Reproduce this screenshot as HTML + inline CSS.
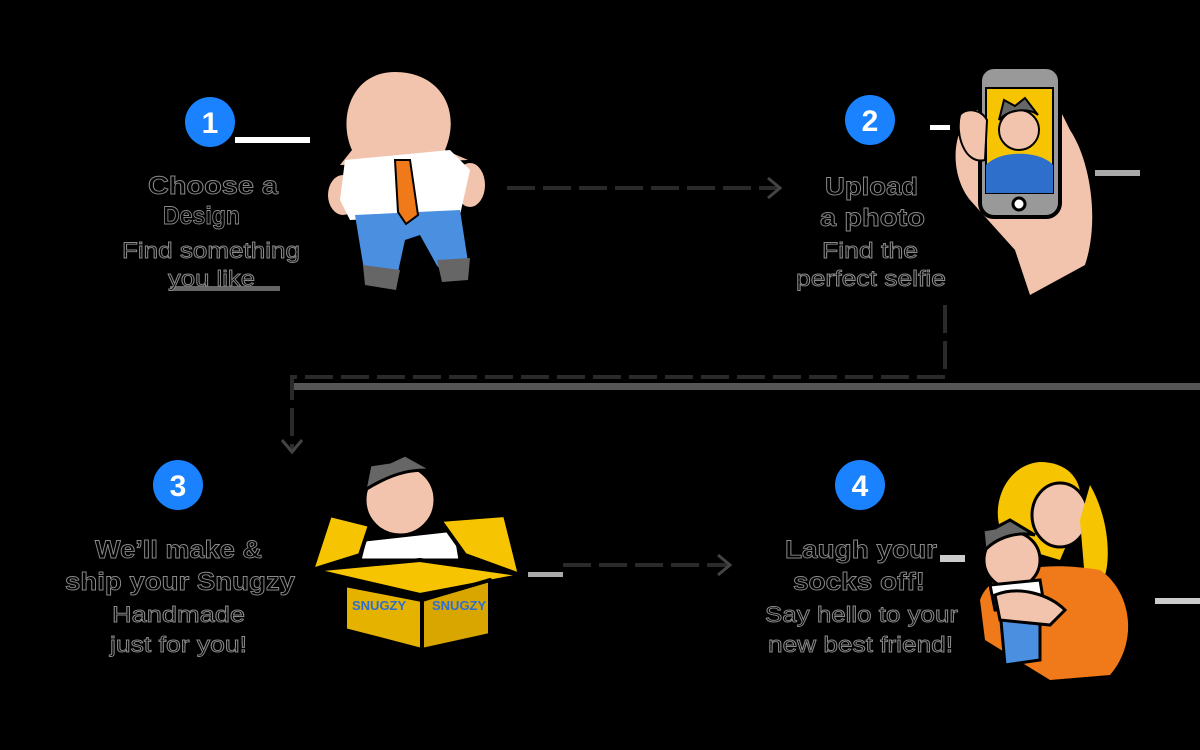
<!DOCTYPE html>
<html><head><meta charset="utf-8"><style>
html,body{margin:0;padding:0;background:#000;width:1200px;height:750px;overflow:hidden}
svg{display:block}
.t{font-family:"Liberation Sans",sans-serif;font-weight:bold;font-size:25px;fill:#000;stroke:#8a8a8a;stroke-width:0.9}
.s{font-family:"Liberation Sans",sans-serif;font-size:22px;fill:#000;stroke:#8a8a8a;stroke-width:0.9}
.n{font-family:"Liberation Sans",sans-serif;font-weight:bold;font-size:30px;fill:#fff}
.d{fill:none;stroke:#2a2a2a;stroke-width:4;stroke-dasharray:28 8}
.ol{stroke:#000;stroke-width:4;stroke-linejoin:round}
</style></head><body>
<svg width="1200" height="750" viewBox="0 0 1200 750">
<rect width="1200" height="750" fill="#000"/>
<rect x="235" y="137" width="75" height="6" fill="#fff"/>
<rect x="170" y="286" width="110" height="5" fill="#666"/>
<rect x="290" y="383" width="910" height="7" fill="#555"/>
<rect x="1155" y="598" width="45" height="6" fill="#ccc"/>
<rect x="940" y="555" width="25" height="7" fill="#ccc"/>
<rect x="528" y="572" width="35" height="5" fill="#aaa"/>
<rect x="1095" y="170" width="45" height="6" fill="#aaa"/>
<rect x="930" y="125" width="20" height="5" fill="#fff"/>

<circle cx="210" cy="122" r="25" fill="#1a82ff"/><text class="n" x="210" y="133" text-anchor="middle">1</text>
<circle cx="870" cy="120" r="25" fill="#1a82ff"/><text class="n" x="870" y="131" text-anchor="middle">2</text>
<circle cx="178" cy="485" r="25" fill="#1a82ff"/><text class="n" x="178" y="496" text-anchor="middle">3</text>
<circle cx="860" cy="485" r="25" fill="#1a82ff"/><text class="n" x="860" y="496" text-anchor="middle">4</text>

<text class="t" x="148" y="194" textLength="130" lengthAdjust="spacingAndGlyphs">Choose a</text>
<text class="t" x="163" y="224" textLength="77" lengthAdjust="spacingAndGlyphs">Design</text>
<text class="s" x="122" y="258" textLength="178" lengthAdjust="spacingAndGlyphs">Find something</text>
<text class="s" x="168" y="286" textLength="87" lengthAdjust="spacingAndGlyphs">you like</text>

<text class="t" x="825" y="195" textLength="93" lengthAdjust="spacingAndGlyphs">Upload</text>
<text class="t" x="820" y="226" textLength="105" lengthAdjust="spacingAndGlyphs">a photo</text>
<text class="s" x="822" y="258" textLength="96" lengthAdjust="spacingAndGlyphs">Find the</text>
<text class="s" x="796" y="286" textLength="150" lengthAdjust="spacingAndGlyphs">perfect selfie</text>

<text class="t" x="95" y="558" textLength="167" lengthAdjust="spacingAndGlyphs">We’ll make &amp;</text>
<text class="t" x="65" y="590" textLength="230" lengthAdjust="spacingAndGlyphs">ship your Snugzy</text>
<text class="s" x="112" y="622" textLength="133" lengthAdjust="spacingAndGlyphs">Handmade</text>
<text class="s" x="110" y="652" textLength="137" lengthAdjust="spacingAndGlyphs">just for you!</text>

<text class="t" x="785" y="558" textLength="152" lengthAdjust="spacingAndGlyphs">Laugh your</text>
<text class="t" x="793" y="590" textLength="132" lengthAdjust="spacingAndGlyphs">socks off!</text>
<text class="s" x="765" y="622" textLength="193" lengthAdjust="spacingAndGlyphs">Say hello to your</text>
<text class="s" x="768" y="652" textLength="185" lengthAdjust="spacingAndGlyphs">new best friend!</text>

<path class="d" d="M507 188 H778"/>
<path d="M768 178 L780 188 L768 198" fill="none" stroke="#444" stroke-width="3"/>
<path class="d" d="M945 305 V377 H292 V450"/>
<path d="M282 440 L292 452 L302 440" fill="none" stroke="#444" stroke-width="3"/>
<path class="d" d="M563 565 H728"/>
<path d="M718 555 L730 565 L718 575" fill="none" stroke="#444" stroke-width="3"/>

<!-- character 1 -->
<g>
<path d="M395 72 C350 72 338 120 352 150 L340 165 L468 160 L445 150 C462 110 440 72 395 72Z" fill="#f2c4ad"/>
<ellipse cx="343" cy="195" rx="15" ry="20" fill="#f2c4ad"/>
<ellipse cx="470" cy="185" rx="15" ry="22" fill="#f2c4ad"/>
<path d="M345 160 L450 150 L470 170 L460 215 L350 220 L340 200Z" fill="#fff"/>
<path d="M355 215 L460 210 L468 262 C460 275 440 275 435 262 L420 235 L405 240 L398 272 C390 285 368 282 364 270Z" fill="#4a8fe0"/>
<path d="M395 160 L410 160 L418 215 L406 224 L398 212Z" fill="#f07a1a" stroke="#000" stroke-width="2"/>
<path d="M363 265 L400 270 L396 290 L365 285Z M437 260 L470 258 L468 280 L442 282Z" fill="#666"/>
</g>

<!-- phone + hand -->
<g>
<path d="M975 110 C950 130 950 175 970 200 L1015 250 L1030 295 L1085 265 C1100 220 1090 160 1070 130 L1060 110Z" fill="#f2c4ad"/>
<rect class="ol" x="980" y="67" width="80" height="150" rx="14" fill="#999"/>
<rect x="986" y="88" width="67" height="105" fill="#f6c400" stroke="#000" stroke-width="2"/>
<path d="M986 193 L986 165 C1000 150 1040 150 1053 165 L1053 193Z" fill="#2f6fcc"/>
<circle cx="1019" cy="130" r="20" fill="#f2c4ad" stroke="#000" stroke-width="2"/>
<path d="M999 120 L1004 100 L1015 106 L1025 98 L1038 115 C1030 108 1010 108 999 120Z" fill="#666" stroke="#000" stroke-width="2"/>
<circle cx="1019" cy="204" r="6" fill="#fff" stroke="#000" stroke-width="3"/>
<path d="M960 115 C955 135 965 165 985 160 L987 120 C980 108 965 108 960 115Z" fill="#f2c4ad" stroke="#000" stroke-width="2"/>
</g>

<!-- box -->
<g>
<circle cx="400" cy="500" r="35" fill="#f2c4ad" stroke="#000" stroke-width="3"/>
<path d="M365 490 L370 465 L390 462 L405 455 L432 470 C420 470 400 468 365 490Z" fill="#666" stroke="#000" stroke-width="3"/>
<path d="M365 540 L455 530 L460 560 L360 560Z" fill="#fff" stroke="#000" stroke-width="3"/>
<path class="ol" d="M330 515 L370 525 L360 555 L312 570 Z" fill="#f6c400"/>
<path class="ol" d="M440 520 L505 515 L520 575 L465 555Z" fill="#f6c400"/>
<path class="ol" d="M312 570 L420 560 L525 575 L420 595 Z" fill="#f6c400"/>
<path class="ol" d="M345 585 L422 600 L422 650 L345 630Z" fill="#e6b200"/>
<path class="ol" d="M422 600 L490 580 L490 635 L422 650Z" fill="#d9a600"/>
<text x="352" y="610" font-family="Liberation Sans,sans-serif" font-weight="bold" font-size="13" fill="#2f6fcc">SNUGZY</text>
<text x="432" y="610" font-family="Liberation Sans,sans-serif" font-weight="bold" font-size="13" fill="#2f6fcc">SNUGZY</text>
</g>

<!-- woman hug -->
<g>
<path d="M1040 462 C1000 465 985 520 1010 545 L1060 560 L1075 525 C1090 490 1075 462 1040 462Z" fill="#f6c400"/>
<ellipse cx="1060" cy="515" rx="28" ry="32" fill="#f2c4ad" stroke="#000" stroke-width="3"/>
<path d="M1090 485 C1110 520 1110 560 1105 575 L1085 580 L1080 520Z" fill="#f6c400"/>
<path d="M980 600 C990 570 1040 560 1100 570 C1130 590 1140 640 1110 675 L1050 680 L985 640Z" fill="#f07a1a"/>
<circle cx="1012" cy="560" r="28" fill="#f2c4ad" stroke="#000" stroke-width="3"/>
<path d="M985 550 L983 530 L995 528 L1010 520 L1035 535 C1020 532 1000 535 985 550Z" fill="#666" stroke="#000" stroke-width="3"/>
<path d="M990 585 L1040 580 L1045 610 L995 610Z" fill="#fff" stroke="#000" stroke-width="3"/>
<path d="M1000 610 L1040 610 L1040 660 L1005 665Z" fill="#4a8fe0" stroke="#000" stroke-width="3"/>
<path d="M995 595 C1020 585 1050 595 1065 610 L1050 625 L1000 620Z" fill="#f2c4ad" stroke="#000" stroke-width="3"/>
</g>
</svg>
</body></html>
